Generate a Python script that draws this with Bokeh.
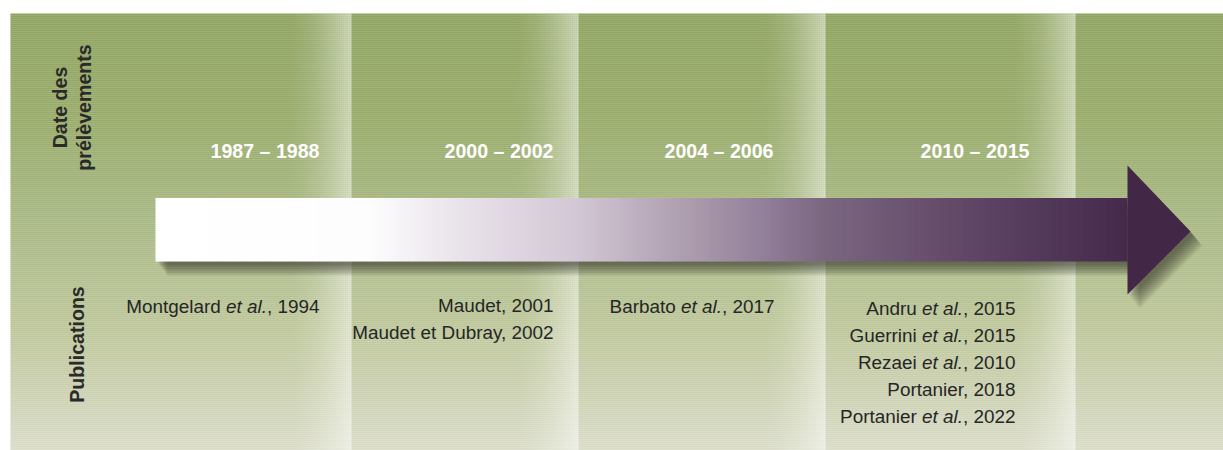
import numpy as np
from bokeh.plotting import figure
from bokeh.models import Range1d
from bokeh.core.properties import value
from bokeh.embed import file_html
from bokeh.resources import INLINE

# ---------------- data ----------------
row_labels_top = ["Date des", "prélèvements"]
row_label_bottom = "Publications"
periods = ["1987 – 1988", "2000 – 2002", "2004 – 2006", "2010 – 2015"]
publications = [
    ["Montgelard *et al.*, 1994"],
    ["Maudet, 2001", "Maudet et Dubray, 2002"],
    ["Barbato *et al.*, 2017"],
    ["Andru *et al.*, 2015", "Guerrini *et al.*, 2015", "Rezaei *et al.*, 2010",
     "Portanier, 2018", "Portanier *et al.*, 2022"],
]

# ---------------- layout (page pixels) ----------------
W, H = 1223, 450
col_right_edges = [351, 578, 825, 1075]
period_right = [319, 553, 773, 1029]
pub_right = [319, 553, 774, 1015]
pub_first_baseline = [306, 305, 306, 308]
pub_line_step = 27
period_baseline = 150.5
row_top_x = [59, 83]
row_bottom_x = 76

FONT = "Liberation Sans"
SZ_PUB = 18.9
SZ_BOLD = 19.6

def Y(py):
    return H - py

ARIAL = {' ': 278, ',': 278, '.': 278, 'A': 667, 'B': 667, 'D': 722, 'G': 778, 'M': 833,
         'P': 667, 'R': 722, 'a': 556, 'b': 556, 'd': 556, 'e': 556, 'g': 556, 'i': 222,
         'l': 222, 'n': 556, 'o': 556, 'r': 333, 't': 278, 'u': 556, 'y': 500, 'z': 500,
         'm': 833, 's': 500, 'c': 500, 'p': 556, 'v': 500, 'h': 556, 'k': 500}

def text_w(s, size):
    return sum(ARIAL.get(c, 556) for c in s) / 1000.0 * size

def hex2rgb(h):
    h = h.lstrip('#')
    return [int(h[i:i + 2], 16) for i in (0, 2, 4)]

def interp_colors(vals, stops):
    pos = [s[0] for s in stops]
    rgb = np.array([hex2rgb(s[1]) for s in stops], dtype=float)
    out = []
    for v in vals:
        c = [int(round(np.interp(v, pos, rgb[:, k]))) for k in range(3)]
        out.append("#%02x%02x%02x" % tuple(c))
    return out

p = figure(width=W, height=H, x_range=Range1d(0, W), y_range=Range1d(0, H),
           output_backend="svg", toolbar_location=None, min_border=0,
           x_axis_location=None, y_axis_location=None)
p.grid.visible = False
p.outline_line_color = None
p.background_fill_color = "white"
p.border_fill_color = "white"

# ---------------- background ----------------
bg_top, bg_bot, bg_left = 13, 450, 10
ys = np.arange(bg_top, bg_bot, 2.0)
bg_stops = [(13, "#8ea35f"), (120, "#98ab6a"), (230, "#a9b985"), (330, "#bec79b"),
            (380, "#c9cfad"), (450, "#dadcc8")]
bg_cols = interp_colors(ys + 1, bg_stops)
p.quad(left=bg_left, right=W, top=[Y(v) for v in ys], bottom=[Y(v + 2.2) for v in ys],
       fill_color=bg_cols, line_color=None)

band = 72
lx, la = [], []
for edge in col_right_edges:
    for x in np.arange(edge - band, edge, 2.0):
        t = (x + 1 - (edge - band)) / band
        lx.append(x)
        la.append(0.54 * t ** 2.0)
p.quad(left=lx, right=[x + 2 for x in lx], top=Y(bg_top), bottom=Y(bg_bot),
       fill_color="white", fill_alpha=la, line_color=None)

# ---------------- arrow ----------------
ax0, ax1, atip = 155, 1127, 1190
ab_top, ab_bot = 197.5, 261
ah_top, ah_bot, ah_mid = 165, 294, 231
arrow_x = [ax0, ax1, ax1, atip, ax1, ax1, ax0]
arrow_y = [ab_top, ab_top, ah_top, ah_mid, ah_bot, ab_bot, ab_bot]

for i in range(9):
    dx, dy = 3 + 1.1 * i, 3 + 1.4 * i
    p.patch([x + dx for x in arrow_x], [Y(y + dy) for y in arrow_y],
            fill_color="#2a3420", fill_alpha=0.085, line_color=None)

arrow_stops = [(155, "#ffffff"), (370, "#fdfdfd"), (450, "#ebe5ec"), (520, "#ddd4df"),
               (578, "#d2c7d4"), (640, "#bcaebe"), (700, "#a898aa"), (760, "#93809a"),
               (825, "#7b6680"), (950, "#634a69"), (1050, "#513758"), (1127, "#452a4c")]
sx = np.arange(ax0, ax1, 3.0)
p.quad(left=sx, right=[min(x + 3.6, ax1) for x in sx], top=Y(ab_top), bottom=Y(ab_bot),
       fill_color=interp_colors(sx + 1.5, arrow_stops), line_color=None)
p.patch([ax1, ax1, atip], [Y(ah_top), Y(ah_bot), Y(ah_mid)], fill_color="#422747",
        line_color=None)

# ---------------- text ----------------
p.text(x=row_top_x, y=[Y(107), Y(107)], text=row_labels_top, angle=np.pi / 2,
       text_align="center", text_baseline="alphabetic", text_font=value(FONT),
       text_font_size=f"{SZ_BOLD}px", text_font_style="bold", text_color="#2a2a2a")
p.text(x=[row_bottom_x], y=[Y(344)], text=[row_label_bottom], angle=np.pi / 2,
       text_align="center", text_baseline="alphabetic", text_font=value(FONT),
       text_font_size=f"{SZ_BOLD}px", text_font_style="bold", text_color="#2a2a2a")

p.text(x=period_right, y=[Y(period_baseline)] * len(periods), text=periods,
       text_align="right", text_baseline="alphabetic", text_font=value(FONT),
       text_font_size=f"{SZ_BOLD}px", text_font_style="bold", text_color="white")

seg = {"normal": ([], [], []), "italic": ([], [], [])}
for ci, lines in enumerate(publications):
    for li, line in enumerate(lines):
        parts = line.split("*")
        xr = pub_right[ci]
        yb = Y(pub_first_baseline[ci] + li * pub_line_step)
        for k in range(len(parts) - 1, -1, -1):
            s = parts[k]
            if not s:
                continue
            style = "italic" if k % 2 == 1 else "normal"
            trail = len(s) - len(s.rstrip())
            core = s.strip()
            if core:
                seg[style][0].append(xr - text_w(" " * trail, SZ_PUB))
                seg[style][1].append(yb)
                seg[style][2].append(core)
            xr -= text_w(s, SZ_PUB)
for style, (xs_, ys_, ts_) in seg.items():
    p.text(x=xs_, y=ys_, text=ts_, text_align="right", text_baseline="alphabetic",
           text_font=value(FONT), text_font_size=f"{SZ_PUB}px", text_font_style=style,
           text_color="#262626")

open("out.html", "w").write(file_html(p, INLINE))
